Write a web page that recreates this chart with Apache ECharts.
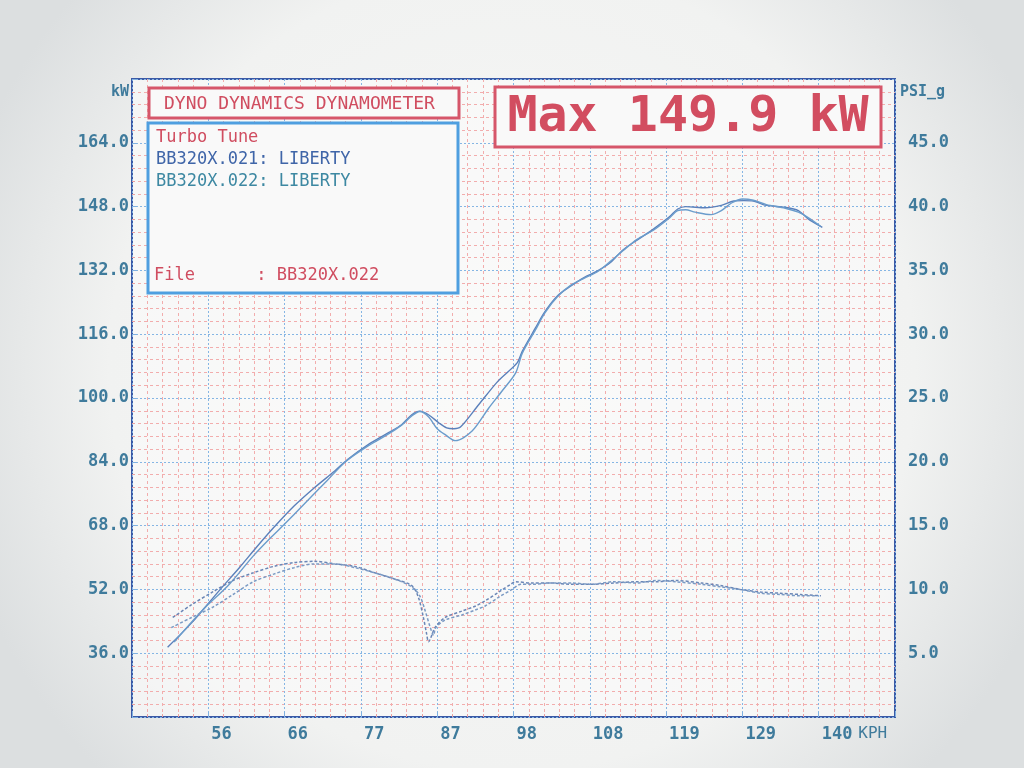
<!DOCTYPE html>
<html>
<head>
<meta charset="utf-8">
<script src="https://cdn.jsdelivr.net/npm/echarts@6/dist/echarts.min.js"></script>
<style>html,body{margin:0;padding:0;background:#e4e6e6;}#c{width:1024px;height:768px;}</style>
</head>
<body>
<div id="c"></div>
<script>
// ---- tick labels ----
const xTickLabels = ['56', '66', '77', '87', '98', '108', '119', '129', '140'];

// ---- Run BB320X.021 : power (kW) vs speed (KPH) ----
const run021Speed = [50.4, 53.7, 57.5, 60.3, 62.6, 65.0, 67.8, 70.6, 73.4, 75.2, 78.0, 80.8, 82.6, 84.0, 85.1, 86.3, 87.7, 88.8, 89.8, 90.7, 93.2, 95.9, 98.5, 99.2, 101.0, 102.3, 104.1, 105.9, 107.7, 109.5, 111.3, 113.1, 115.0, 117.2, 119.5, 120.6, 121.7, 124.4, 126.6, 128.3, 129.7, 131.0, 132.8, 135.4, 137.2, 138.5, 140.5];
const run021Power = [37.5, 43.6, 51.7, 57.5, 62.5, 67.5, 72.9, 77.5, 81.7, 84.6, 88.3, 91.3, 93.3, 95.8, 96.7, 95.8, 93.8, 92.5, 92.3, 92.7, 98.3, 104.3, 108.8, 111.7, 117.5, 121.6, 125.7, 128.1, 130.2, 131.8, 133.9, 137.2, 139.6, 142.3, 145.5, 147.4, 148.0, 147.7, 148.3, 149.4, 149.5, 149.4, 148.3, 147.8, 147.0, 145.0, 142.8];

// ---- Run BB320X.022 : power (kW) vs speed (KPH) ----
const run022Speed = [51.3, 55.1, 58.9, 62.2, 64.5, 66.4, 69.2, 72.4, 75.0, 78.0, 80.8, 82.6, 84.0, 85.1, 86.3, 87.5, 88.6, 90.0, 92.3, 94.6, 96.4, 98.3, 99.2, 101.0, 102.3, 104.1, 105.9, 107.7, 109.5, 111.3, 113.1, 115.0, 117.2, 119.5, 120.6, 121.7, 123.0, 125.2, 126.6, 128.0, 129.5, 131.0, 132.8, 135.4, 137.2, 138.5, 140.3];
const run022Power = [38.8, 46.6, 53.3, 60.4, 64.8, 68.2, 73.4, 79.4, 84.2, 88.0, 91.0, 93.2, 95.5, 96.6, 95.3, 92.3, 90.8, 89.3, 91.7, 97.5, 101.7, 106.3, 111.2, 117.0, 121.3, 125.5, 128.3, 130.0, 131.6, 134.2, 137.0, 139.8, 142.0, 145.2, 147.0, 147.2, 146.6, 146.0, 147.0, 148.9, 149.9, 149.6, 148.5, 147.6, 146.6, 145.3, 143.0];

// ---- Boost (PSI_g) vs speed ----
const boost021Speed = [51.1, 53.7, 56.6, 59.4, 62.2, 65.0, 67.8, 70.6, 73.4, 76.2, 78.9, 81.7, 84.0, 84.9, 85.6, 86.05, 86.3, 87.2, 88.6, 90.9, 92.8, 94.1, 96.0, 97.6, 98.3, 100.5, 103.2, 106.0, 108.6, 111.8, 114.9, 117.6, 120.3, 123.9, 126.5, 129.2, 132.0, 134.7, 137.5, 140.3];
const boost021Psi = [7.8, 8.8, 9.8, 10.7, 11.3, 11.8, 12.1, 12.2, 12.0, 11.8, 11.3, 10.8, 10.3, 9.4, 7.8, 6.5, 5.9, 7.0, 7.8, 8.3, 8.7, 9.1, 9.8, 10.4, 10.6, 10.5, 10.5, 10.4, 10.4, 10.5, 10.6, 10.6, 10.7, 10.5, 10.3, 10.0, 9.8, 9.7, 9.6, 9.5];
const boost022Speed = [50.9, 53.7, 56.6, 59.4, 62.2, 65.0, 67.8, 70.6, 73.4, 76.2, 78.9, 81.7, 84.0, 85.1, 85.8, 86.5, 87.0, 87.3, 88.6, 90.9, 92.8, 94.1, 96.0, 97.8, 99.0, 100.5, 103.2, 106.0, 108.6, 111.8, 114.9, 117.6, 120.3, 123.9, 126.5, 129.2, 132.0, 134.7, 137.5, 139.8];
const boost022Psi = [7.0, 7.8, 8.6, 9.6, 10.6, 11.2, 11.7, 12.0, 12.0, 11.7, 11.3, 10.8, 10.2, 9.5, 8.4, 7.1, 6.4, 7.0, 7.6, 8.0, 8.4, 8.7, 9.4, 10.0, 10.4, 10.4, 10.5, 10.5, 10.4, 10.6, 10.5, 10.7, 10.6, 10.4, 10.2, 10.0, 9.7, 9.6, 9.5, 9.5];

const zip = (a, b) => a.map((v, i) => [v, b[i]]);

const MONO = '"DejaVu Sans Mono", "Liberation Mono", monospace';
const LABEL = '#3f7b9c';
const RED = '#d6566a';

const chart = echarts.init(document.getElementById('c'));
chart.setOption({
  animation: false,
  backgroundColor: {
    type: 'radial', x: 0.5, y: 0.48, r: 0.75,
    colorStops: [{offset: 0, color: '#f8f8f7'}, {offset: 0.7, color: '#f1f2f1'}, {offset: 1, color: '#dcdfe0'}]
  },
  grid: {
    left: 132, right: 129, top: 79, bottom: 51,
    show: true, borderColor: '#3b5aa6', borderWidth: 2, backgroundColor: 'rgba(252,252,251,0.6)'
  },
  xAxis: {
    type: 'value', min: 45.5, max: 150.5, interval: 10.5,
    name: 'KPH', nameLocation: 'end', nameGap: -38,
    nameTextStyle: {fontFamily: MONO, fontSize: 16, color: LABEL, align: 'left', verticalAlign: 'top', padding: [9, 0, 0, 0]},
    axisLine: {show: false},
    axisTick: {show: true, inside: true, length: 5, lineStyle: {color: '#7fb0e0'}},
    minorTick: {show: true, splitNumber: 5, length: 3, lineStyle: {color: '#e9a0a0'}},
    axisLabel: {
      showMinLabel: false, showMaxLabel: false, margin: 9,
      fontFamily: MONO, fontSize: 17, fontWeight: 'bold', color: LABEL, align: 'left', padding: [0, 0, 0, 3],
      formatter: v => xTickLabels[Math.round((v - 45.5) / 10.5) - 1] || ''
    },
    splitLine: {show: true, lineStyle: {color: '#86b6e4', width: 1, type: [2, 2]}},
    minorSplitLine: {show: true, lineStyle: {color: '#f2adad', width: 1, type: [3, 3]}}
  },
  yAxis: [{
    type: 'value', min: 20, max: 180, interval: 16,
    name: 'kW', nameLocation: 'end', nameGap: -13,
    nameTextStyle: {fontFamily: MONO, fontSize: 15, fontWeight: 'bold', color: LABEL, align: 'right', verticalAlign: 'middle', padding: [0, 3, 0, 0]},
    axisLine: {show: false},
    axisTick: {show: true, inside: true, length: 5, lineStyle: {color: '#7fb0e0'}},
    minorTick: {show: true, splitNumber: 5, length: 3, lineStyle: {color: '#e9a0a0'}},
    axisLabel: {showMinLabel: false, showMaxLabel: false, margin: 3, fontFamily: MONO, fontSize: 17, fontWeight: 'bold', color: LABEL, formatter: v => v.toFixed(1)},
    splitLine: {show: true, lineStyle: {color: '#86b6e4', width: 1, type: [2, 2]}},
    minorSplitLine: {show: true, lineStyle: {color: '#f2adad', width: 1, type: [3, 3]}}
  }, {
    type: 'value', min: 0, max: 50, interval: 5, position: 'right',
    name: 'PSI_g', nameLocation: 'end', nameGap: -13,
    nameTextStyle: {fontFamily: MONO, fontSize: 15, fontWeight: 'bold', color: LABEL, align: 'left', verticalAlign: 'middle', padding: [0, 0, 0, 5]},
    axisLine: {show: false},
    axisTick: {show: false},
    axisLabel: {showMinLabel: false, showMaxLabel: false, margin: 13, fontFamily: MONO, fontSize: 17, fontWeight: 'bold', color: LABEL, formatter: v => v.toFixed(1)},
    splitLine: {show: false}
  }],
  series: [
    {name: 'BB320X.021 kW', type: 'line', yAxisIndex: 0, data: zip(run021Speed, run021Power), showSymbol: false, smooth: 0.3,
     lineStyle: {color: '#5b80bb', width: 1.4}},
    {name: 'BB320X.022 kW', type: 'line', yAxisIndex: 0, data: zip(run022Speed, run022Power), showSymbol: false, smooth: 0.3,
     lineStyle: {color: '#6a9ccc', width: 1.4}},
    {name: 'BB320X.021 PSI', type: 'line', yAxisIndex: 1, data: zip(boost021Speed, boost021Psi), showSymbol: false, smooth: 0.3,
     lineStyle: {color: '#6a86b6', width: 1.5, type: [3, 2]}},
    {name: 'BB320X.022 PSI', type: 'line', yAxisIndex: 1, data: zip(boost022Speed, boost022Psi), showSymbol: false, smooth: 0.3,
     lineStyle: {color: '#7a9ac4', width: 1.5, type: [3, 2]}}
  ],
  graphic: [
    {type: 'rect', z: 100, shape: {x: 149, y: 88, width: 310, height: 30}, style: {fill: '#f9f9f9', stroke: RED, lineWidth: 3}},
    {type: 'text', z: 101, x: 164, y: 104, style: {text: 'DYNO DYNAMICS DYNAMOMETER', font: '18px ' + MONO, fill: '#d04d60', verticalAlign: 'middle'}},
    {type: 'rect', z: 100, shape: {x: 148, y: 123, width: 310, height: 170}, style: {fill: '#f9f9f9', stroke: '#4f9fe0', lineWidth: 3}},
    {type: 'text', z: 101, x: 156, y: 138, style: {text: 'Turbo Tune', font: '17px ' + MONO, fill: '#d04d60', verticalAlign: 'middle'}},
    {type: 'text', z: 101, x: 156, y: 160, style: {text: 'BB320X.021: LIBERTY', font: '17px ' + MONO, fill: '#3f65a8', verticalAlign: 'middle'}},
    {type: 'text', z: 101, x: 156, y: 182, style: {text: 'BB320X.022: LIBERTY', font: '17px ' + MONO, fill: '#3d88a2', verticalAlign: 'middle'}},
    {type: 'text', z: 101, x: 154, y: 276, style: {text: 'File      : BB320X.022', font: '17px ' + MONO, fill: '#d04d60', verticalAlign: 'middle'}},
    {type: 'rect', z: 100, shape: {x: 495, y: 87, width: 386, height: 60}, style: {fill: '#f9f9f9', stroke: RED, lineWidth: 3}},
    {type: 'text', z: 101, x: 688, y: 118, style: {text: 'Max 149.9 kW', font: 'bold 50px ' + MONO, fill: '#d24d60', align: 'center', verticalAlign: 'middle'}}
  ]
});
</script>
</body>
</html>
